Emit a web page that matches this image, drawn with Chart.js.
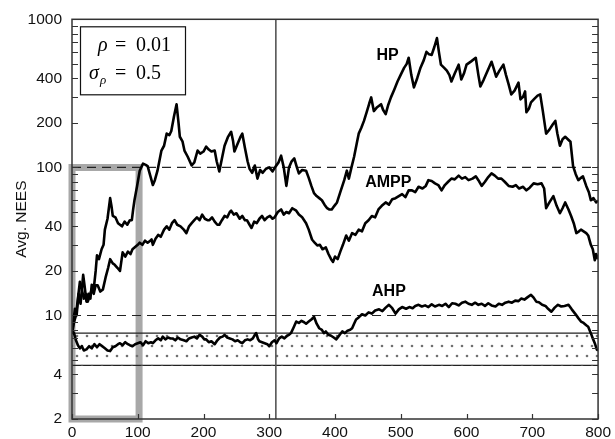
<!DOCTYPE html>
<html><head><meta charset="utf-8">
<script src="https://cdn.jsdelivr.net/npm/chart.js@4.4.1/dist/chart.umd.min.js"></script>
<style>html,body{margin:0;padding:0;background:#fff}#wrap{width:615px;height:439px}</style>
</head><body><div id="wrap"><canvas id="c" width="615" height="439"></canvas></div>
<script>
// ---- data ----
const seriesNames = ['HP', 'AMPP', 'AHP'];
const hpX = [0,2,4.5,7,10,13,17,19,22,25,28,30,33,36,38,41,45,48,50,54,58,60,62,66,70,76,80,84,88,91,93,95,99,103,108,112,115,119,123,126,130,136,140,144,148,151,155,159,162,164,168,171,176,182,186,191,195,200,204,208,212,217,220,224,228,232,237,242,245,247,252,256,259,263,267,270,274,278,282,286,290,295,300,305,310,314,318,322,326,330,334,338,342,345,350,356,360,364,368,372,376,380,384,388,391,395,399,403,408,414,418,421,425,429,433,436,440,444,448,452,455,459,464,470,473,477,481,485,490,495,500,505,509,512,516,520,525,530,535,539,543,547,551,555,558,561,566,570,574,577,582,588,592,596,600,607,614,618,621,626,632,638,641,645,650,656,660,664,668,673,679,682,686,689,691,695,698,703,708,712,716,721,726,731,735,738,742,746,750,754,758,762,766,770,774,777,782,786,789,793,797,800];
const hpY = [7.5,9,11.1,10,14,12,18.8,16,12.4,14,13,16.1,15,20,25.5,24,28,30,38,45,62,55,47,46,42,40,43,41,44,44,52,60,75,95,106,104,102,88,76,82,95,130,140,169,165,176,220,267,200,161,150,130,118,103,108,130,124,128,138,132,128,130,110,94,115,140,160,174,150,128,145,160,169,135,110,98,92,103,84,96,92,98,100,94,102,108,120,100,75,100,110,115,100,91,96,95,85,75,67,64,62,60,56,53,52,52,55,58,68,82,95,84,100,118,145,169,185,206,235,270,297,240,255,267,245,229,265,297,335,380,423,470,500,550,420,347,400,471,530,603,580,575,650,747,600,494,470,450,420,380,430,494,392,430,494,520,550,420,352,390,450,517,470,410,450,494,420,363,311,330,374,288,300,326,236,250,275,290,305,311,240,169,180,195,206,170,140,155,161,155,149,102,90,82,85,87,75,68,60,62,58,60];
const amppX = [0,3,6,9,12,15,18,21,24,27,30,33,36,39,43,47,51,55,58,62,65,69,73,77,81,85,89,92,96,100,103,107,111,115,119,121,123,127,131,135,140,144,148,152,156,160,165,170,174,178,182,186,190,194,198,202,206,209,213,217,221,224,228,232,236,240,242,246,250,255,259,263,266,270,273,277,281,285,289,293,297,301,305,308,313,318,322,326,330,335,341,345,350,356,360,365,369,373,377,381,386,390,394,397,400,404,408,412,417,421,426,431,436,441,446,451,456,461,466,471,477,482,487,492,497,502,507,512,517,522,527,533,538,542,547,552,557,562,567,572,577,582,588,593,598,603,609,614,618,623,628,633,638,643,648,653,658,664,670,675,680,686,691,696,702,708,714,718,721,726,732,737,742,746,750,755,759,763,767,771,774,778,782,785,789,792,795,797,800];
const amppY = [7.5,9,10,13,16.9,15,13,14,12.4,13.5,15,14,16,16,14.5,15,18,21,24,22.5,22,21,20,26.7,25,27,26,28,29,30,31,30,32,31,32,32.6,30,33,35,34,38,40,38,42,44,41,40,38,36,40,42,44,46,44,48,45,44,44,46,43,41,41,44,47,46,50,51,48,49,45,47,44,44,41,39,43,42,45,47,44,46,47,45,46,50,52,48,50,49,53,51,48,46,42,38,32.6,31,29.7,30,28,28.8,26,24,23,25,24,27,30,34.7,32,36,35,38,37,42,44,47,46,52,55,58,56,61,62,64,66,63,70,70,68,74,72,75,82,81,78,76,70,76,80,84,83,88,84,86,82,84,87,82,75,80,86,91,88,84,84,80,75,74,76,72,74,70,73,78,77,78,72,53,58,64,55,49,53,58,52,47,42,36,37,38,37,36,34.7,30,28,23.6,26,24];
const ahpX = [0,3,6,9,12,15,18,22,26,30,34,38,42,46,50,54,58,62,66,70,73,77,81,85,88,92,96,100,104,108,112,116,120,123,127,131,135,138,142,146,150,153,157,161,165,170,174,178,182,186,190,194,198,201,204,208,212,217,221,225,229,232,236,240,244,248,252,256,259,263,267,271,275,278,280,283,285,289,293,297,300,304,308,311,315,319,323,327,330,333,337,341,345,349,353,356,360,364,368,372,376,380,383,386,390,394,398,402,405,408,411,415,419,423,426,429,432,436,441,446,451,456,461,467,472,477,482,487,492,497,502,508,513,518,522,527,532,537,542,547,552,558,563,568,573,578,583,588,593,598,603,608,613,618,623,628,633,638,644,649,654,659,664,669,674,679,683,688,693,698,702,706,710,715,720,724,729,734,739,744,749,755,760,765,770,774,778,782,785,789,792,795,798,800];
const ahpY = [8.0,7.6,6.8,6.3,6.0,6.2,5.8,5.9,6.2,6.0,6.4,6.1,6.4,6.2,6.0,5.8,5.75,6.1,6.2,6.4,6.5,6.3,6.6,6.4,6.3,6.2,6.4,6.5,6.6,6.3,6.7,6.5,6.6,6.5,6.8,7.0,6.8,7.2,6.9,7.1,7.0,7.0,6.8,7.1,6.9,6.8,6.7,7.0,7.1,7.2,7.0,7.4,7.2,6.9,6.9,6.6,6.7,6.4,6.8,7.1,7.2,7.4,7.1,7.0,6.9,6.7,6.8,6.6,6.5,6.8,6.9,6.8,7.0,7.4,7.6,6.9,6.7,6.6,6.5,6.4,6.2,6.6,6.8,6.5,7.0,7.2,7.0,7.3,7.4,7.6,8.3,9.1,8.9,9.2,9.0,8.8,9.1,9.4,9.8,8.8,8.2,8.0,7.6,7.8,7.4,7.3,7.1,6.9,7.2,7.5,7.8,7.6,7.9,8.0,8.2,8.8,9.4,9.7,10.2,10.0,10.5,10.3,10.8,11.0,10.7,11.3,11.8,11.2,10.3,11.0,11.4,11.1,11.4,11.2,11.6,11.8,11.5,11.7,11.4,11.9,11.5,11.8,11.6,12.0,11.4,12.1,12.0,11.7,12.2,12.4,12.0,11.8,12.2,11.8,12.0,11.6,12.1,11.7,11.5,12.0,11.8,12.2,12.4,12.2,12.6,12.5,13.0,12.8,13.3,13.8,13.2,12.4,12.3,11.8,11.6,11.1,10.6,11.3,11.8,11.5,11.6,11.8,11.0,10.3,9.6,9.1,8.9,8.6,8.4,7.6,7.0,6.5,5.9,5.8];
const xTicks = [0,100,200,300,400,500,600,700,800];
const yLabelTicks = [2,4,10,20,40,100,200,400,1000];
const yAllTicks = [2,3,4,5,6,7,8,9,10,20,30,40,50,60,70,80,90,100,200,300,400,500,600,700,800,900,1000];
const dashedLevels = [100, 10];
const bandLimits = [7.6, 4.6];
const markerX = 310;
const boxX = [0, 0, 102, 102, 0];
const boxY = [2, 100, 100, 2, 2];
const labelX = [480, 481, 482];
const labelY = [567, 79, 14.5];
const noteLines = [['ρ', '0.01'], ['σ', '0.5']];

// ---- build ----
const pts = (xs, ys) => xs.map((x, i) => ({x, y: ys[i]}));
function makeDots() {
  const c = document.createElement('canvas'); c.width = 10; c.height = 20;
  const g = c.getContext('2d');
  g.fillStyle = '#707070';
  g.beginPath(); g.arc(2, 6, 1.3, 0, Math.PI * 2); g.fill();
  g.beginPath(); g.arc(7, 16, 1.3, 0, Math.PI * 2); g.fill();
  return g.createPattern(c, 'repeat');
}
const seriesData = [pts(hpX, hpY), pts(amppX, amppY), pts(ahpX, ahpY)];
const datasets = [];
seriesData.forEach((d, i) => datasets.push({label: seriesNames[i], data: d, borderColor: '#000', borderWidth: 2.6, pointRadius: 0, fill: false, order: 0, borderJoinStyle: 'round'}));
dashedLevels.forEach(v => datasets.push({data: [{x: 0, y: v}, {x: 800, y: v}], borderColor: '#222', borderWidth: 1.1, borderDash: [9, 6], pointRadius: 0, fill: false, order: 1}));
datasets.push({data: [{x: markerX, y: 2}, {x: markerX, y: 1000}], borderColor: '#555', borderWidth: 1.6, pointRadius: 0, fill: false, order: 1});
datasets.push({data: [{x: 0, y: bandLimits[0]}, {x: 800, y: bandLimits[0]}], borderColor: '#222', borderWidth: 1.2, pointRadius: 0, fill: '+1', backgroundColor: makeDots(), order: 2});
datasets.push({data: [{x: 0, y: bandLimits[1]}, {x: 800, y: bandLimits[1]}], borderColor: '#222', borderWidth: 1.2, pointRadius: 0, fill: false, order: 2});
datasets.push({data: pts(boxX, boxY), borderColor: '#a8a8a8', borderWidth: 7, pointRadius: 0, fill: false, order: 3, clip: 10, borderJoinStyle: 'miter', borderCapStyle: 'square'});

const tickFont = {family: '"Liberation Sans", Arial, sans-serif', size: 15.5};

const decor = {
  id: 'decor',
  afterDatasetsDraw(chart) {
    const {ctx, chartArea: a, scales: {x, y}} = chart;
    ctx.save();
    ctx.strokeStyle = '#333'; ctx.lineWidth = 1.5;
    ctx.strokeRect(a.left, a.top, a.right - a.left, a.bottom - a.top);
    ctx.lineWidth = 1.2; ctx.strokeStyle = '#333';
    ctx.beginPath();
    yAllTicks.forEach(v => {
      const py = Math.round(y.getPixelForValue(v)) + 0.5;
      ctx.moveTo(a.left, py); ctx.lineTo(a.left + 6, py);
      ctx.moveTo(a.right, py); ctx.lineTo(a.right - 6, py);
    });
    xTicks.forEach(v => {
      const px = Math.round(x.getPixelForValue(v)) + 0.5;
      ctx.moveTo(px, a.bottom); ctx.lineTo(px, a.bottom - 5);
    });
    ctx.stroke();
    ctx.fillStyle = '#000';
    ctx.font = 'bold 16px "Liberation Sans", Arial, sans-serif';
    ctx.textAlign = 'center'; ctx.textBaseline = 'middle';
    seriesNames.forEach((n, i) => ctx.fillText(n, x.getPixelForValue(labelX[i]), y.getPixelForValue(labelY[i])));
    const bx = a.left + 8, by = a.top + 7;
    ctx.fillStyle = '#fff';
    ctx.fillRect(bx, by, 105, 68);
    ctx.strokeStyle = '#111'; ctx.lineWidth = 1.2;
    ctx.strokeRect(bx + 0.5, by + 0.5, 105, 68);
    ctx.fillStyle = '#000';
    ctx.textAlign = 'left'; ctx.textBaseline = 'alphabetic';
    const serif = '"Liberation Serif", "DejaVu Serif", serif';
    ctx.font = 'italic 20px ' + serif;
    ctx.fillText(noteLines[0][0], bx + 18, by + 25);
    ctx.font = '20px ' + serif;
    ctx.fillText('=', bx + 35, by + 25);
    ctx.fillText(noteLines[0][1], bx + 56, by + 25);
    ctx.font = 'italic 20px ' + serif;
    ctx.fillText(noteLines[1][0], bx + 9, by + 53);
    ctx.font = 'italic 13px ' + serif;
    ctx.fillText(noteLines[0][0], bx + 20, by + 58);
    ctx.font = '20px ' + serif;
    ctx.fillText('=', bx + 35, by + 53);
    ctx.fillText(noteLines[1][1], bx + 56, by + 53);
    ctx.restore();
  }
};

new Chart(document.getElementById('c'), {
  type: 'line',
  data: {datasets},
  options: {
    responsive: false, animation: false, devicePixelRatio: 1,
    layout: {padding: {left: 0, top: 14, right: 15, bottom: 0}},
    plugins: {legend: {display: false}, tooltip: {enabled: false}},
    scales: {
      x: {
        type: 'linear', min: 0, max: 800,
        afterBuildTicks: s => { s.ticks = xTicks.map(v => ({value: v})); },
        afterFit: s => { s.height = 20; },
        grid: {display: false, drawTicks: false}, border: {display: false},
        ticks: {font: tickFont, color: '#111', padding: 4, maxRotation: 0, autoSkip: false}
      },
      y: {
        type: 'logarithmic', min: 2, max: 1000,
        afterBuildTicks: s => { s.ticks = yAllTicks.map(v => ({value: v})); },
        afterFit: s => { s.width = 72; },
        grid: {display: false, drawTicks: false}, border: {display: false},
        ticks: {font: tickFont, color: '#111', padding: 10, autoSkip: false,
          callback: v => yLabelTicks.includes(v) ? String(v) : ''},
        title: {display: true, text: 'Avg. NEES', font: {family: '"Liberation Sans", Arial, sans-serif', size: 15.5}, color: '#111', padding: {top: 12, bottom: 0}}
      }
    }
  },
  plugins: [decor]
});
</script></body></html>
